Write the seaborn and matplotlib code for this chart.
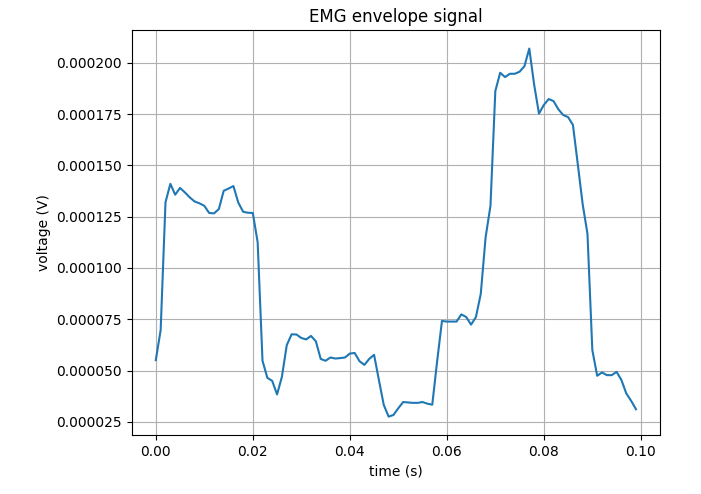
import numpy as np
import pandas as pd
import matplotlib
matplotlib.use('Agg')
import matplotlib.pyplot as plt
import seaborn as sns
from matplotlib.ticker import StrMethodFormatter

# sample times (1 kHz sampling, 100 samples)
time_s = np.arange(100) / 1000

# envelope values (volts)
envelope_v = [
    0.0000551, 0.0000697, 0.0001320, 0.0001410, 0.0001357, 0.0001390, 0.0001368, 0.0001344, 0.0001324, 0.0001315,
    0.0001303, 0.0001268, 0.0001266, 0.0001287, 0.0001376, 0.0001387, 0.0001399, 0.0001319, 0.0001274, 0.0001269,
    0.0001268, 0.0001125, 0.0000548, 0.0000465, 0.0000450, 0.0000384, 0.0000470, 0.0000624, 0.0000677, 0.0000676,
    0.0000659, 0.0000652, 0.0000669, 0.0000643, 0.0000557, 0.0000548, 0.0000564, 0.0000559, 0.0000561, 0.0000564,
    0.0000583, 0.0000586, 0.0000546, 0.0000528, 0.0000557, 0.0000577, 0.0000454, 0.0000333, 0.0000276, 0.0000284,
    0.0000317, 0.0000347, 0.0000345, 0.0000343, 0.0000343, 0.0000347, 0.0000339, 0.0000334, 0.0000545, 0.0000742,
    0.0000739, 0.0000739, 0.0000739, 0.0000774, 0.0000761, 0.0000724, 0.0000761, 0.0000874, 0.0001150, 0.0001303,
    0.0001862, 0.0001951, 0.0001930, 0.0001946, 0.0001946, 0.0001956, 0.0001983, 0.0002069, 0.0001894, 0.0001752,
    0.0001794, 0.0001823, 0.0001813, 0.0001773, 0.0001745, 0.0001735, 0.0001697, 0.0001506, 0.0001312, 0.0001166,
    0.0000600, 0.0000475, 0.0000491, 0.0000478, 0.0000478, 0.0000494, 0.0000454, 0.0000389, 0.0000353, 0.0000312,
]

df = pd.DataFrame({'time': time_s, 'voltage': envelope_v})

fig, ax = plt.subplots(figsize=(7.01, 4.94), dpi=100)
fig.subplots_adjust(left=0.188, right=0.9415, top=0.939, bottom=0.1194)

sns.lineplot(data=df, x='time', y='voltage', ax=ax, color='tab:blue', linewidth=1.5)

ax.set_title('EMG envelope signal')
ax.set_xlabel('time (s)')
ax.set_ylabel('voltage (V)')
ax.yaxis.set_major_formatter(StrMethodFormatter('{x:.6f}'))
ax.grid(True)

fig.savefig('out.png', dpi=100)
